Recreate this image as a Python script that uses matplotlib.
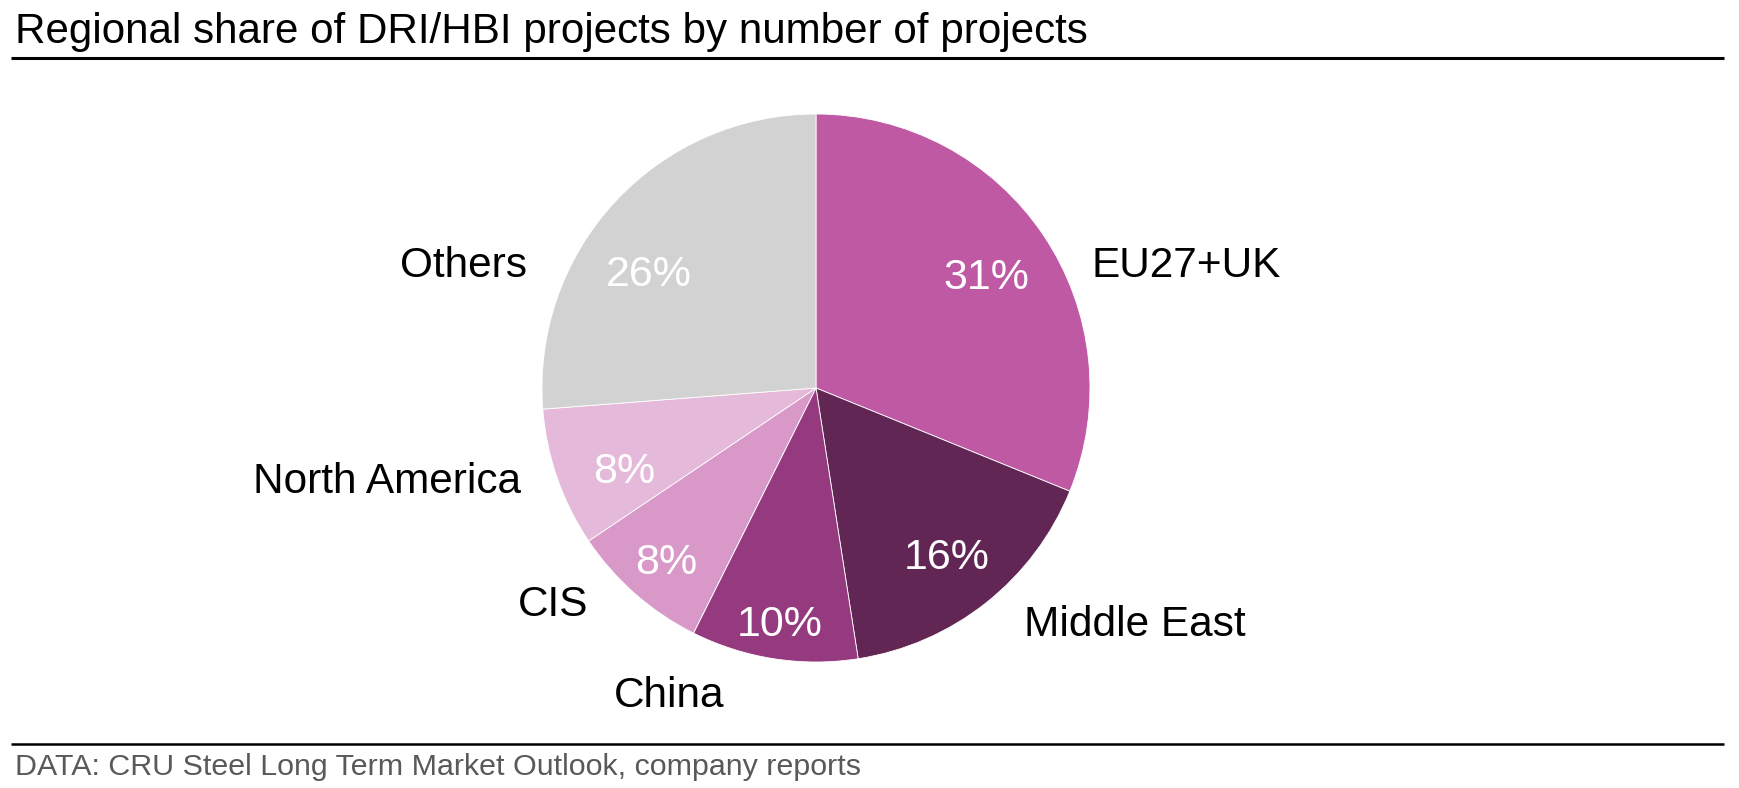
import numpy as np
import matplotlib
matplotlib.use("Agg")
import matplotlib.pyplot as plt
from matplotlib.lines import Line2D

plt.rcParams["font.family"] = ["Liberation Sans", "DejaVu Sans"]

# data: number of DRI/HBI projects by region
regions = ["EU27+UK", "Middle East", "China", "CIS", "North America", "Others"]
projects = [19, 10, 6, 5, 5, 16]
colors = ["#BF59A4", "#622655", "#953A7F", "#D899C8", "#E4B9D9", "#D2D2D2"]

title = "Regional share of DRI/HBI projects by number of projects"
source = "DATA: CRU Steel Long Term Market Outlook, company reports"

# layout: percent labels as (radius fraction, angle nudge in degrees)
pct_layout = [(0.75, 0), (0.77, 0), (0.86, 0), (0.83, 0), (0.76, 3.4), (0.745, 7.8)]
# outer labels in pie-radius units relative to the centre
label_pos = [(1.007, 0.46, "left"), (0.759, -0.847, "left"), (-0.536, -1.106, "center"),
             (-0.832, -0.774, "right"), (-1.077, -0.325, "right"), (-1.055, 0.46, "right")]

W, H = 1739, 788
fig = plt.figure(figsize=(W / 100, H / 100), dpi=100)

cx, cy, r = 816, 388, 274
ax = fig.add_axes([(cx - r) / W, (H - cy - r) / H, 2 * r / W, 2 * r / H])
wedges, _ = ax.pie(projects, colors=colors, startangle=90, counterclock=False,
                   radius=1, wedgeprops=dict(edgecolor="white", linewidth=0.6))
ax.set_xlim(-1, 1)
ax.set_ylim(-1, 1)
ax.set_aspect("equal")
ax.axis("off")

total = sum(projects)
for w, n, (d, nudge) in zip(wedges, projects, pct_layout):
    mid = np.deg2rad((w.theta1 + w.theta2) / 2 + nudge)
    ax.text(d * np.cos(mid), d * np.sin(mid), f"{100 * n / total:.0f}%",
            ha="center", va="center_baseline", fontsize=31, color="white")

for name, (x, y, ha) in zip(regions, label_pos):
    ax.text(x, y, name, ha=ha, va="center_baseline", fontsize=30.5, color="black")

fig.text(15 / W, 1 - 43 / H, title, fontsize=30.3, color="black", va="baseline")
fig.add_artist(Line2D([11 / W, 1724 / W], [1 - 57.5 / H] * 2, color="black", lw=2.2,
                      solid_capstyle="butt"))
fig.add_artist(Line2D([11 / W, 1724 / W], [1 - 744 / H] * 2, color="black", lw=1.8,
                      solid_capstyle="butt"))
fig.text(15 / W, 1 - 775 / H, source, fontsize=21.9, color="#595959", va="baseline")

fig.savefig("out.png", dpi=100)
